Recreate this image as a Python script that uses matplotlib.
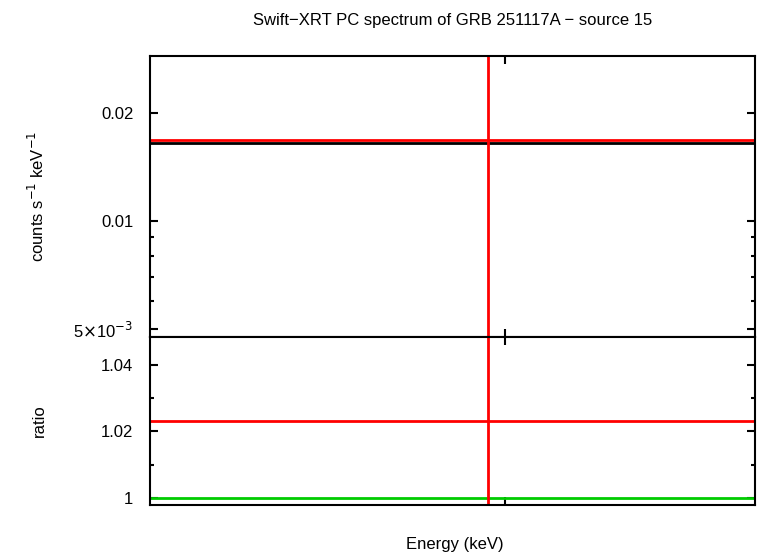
import matplotlib
matplotlib.use("Agg")
import matplotlib.pyplot as plt
from matplotlib.ticker import FixedLocator, NullFormatter, NullLocator

plt.rcParams['font.family'] = ['Liberation Sans', 'DejaVu Sans']

# data
energy = [0.963]
energy_lo = [0.30]
energy_hi = [3.0]
rate = [0.0168]
rate_err = [0.03]
model = [0.0165]
ratio = [1.0233]
ratio_err = [0.2]

fig = plt.figure(figsize=(7.58, 5.56), dpi=100)
ax1 = fig.add_axes([150/758, 1-337/556, 605/758, 281/556])
ax2 = fig.add_axes([150/758, 1-505/556, 605/758, 168/556], sharex=ax1)

xlim = (0.45, 1.755)
for ax in (ax1, ax2):
    ax.set_xscale("log")
    ax.set_xlim(*xlim)
    ax.xaxis.set_major_locator(FixedLocator([1.0]))
    ax.xaxis.set_minor_locator(NullLocator())
    ax.xaxis.set_major_formatter(NullFormatter())
    ax.tick_params(direction="in", which="both", top=True, right=True, length=6, width=1.5, pad=12)
    ax.tick_params(which="minor", length=3)
    for s in ax.spines.values():
        s.set_linewidth(1.5)

xerr = [[energy[0]-energy_lo[0]], [energy_hi[0]-energy[0]]]
ax1.set_yscale("log")
ax1.set_ylim(0.00475, 0.0288)
ax1.plot([energy_lo[0], energy_hi[0]], [model[0], model[0]], color="black", lw=2)
ax1.errorbar(energy, rate, xerr=xerr, yerr=[[0.0165], rate_err], color="red", lw=2, capsize=0, fmt="none")
ax1.yaxis.set_major_locator(FixedLocator([0.005, 0.01, 0.02]))
ax1.yaxis.set_minor_locator(FixedLocator([0.006, 0.007, 0.008, 0.009]))
ax1.set_yticklabels([r"5$\times$10$^{-3}$", "0.01", "0.02"], fontsize=12)
ax1.yaxis.set_minor_formatter(NullFormatter())
ax1.set_ylabel(r"counts s$^{-1}$ keV$^{-1}$", fontsize=12, labelpad=22)
ax1.set_title("Swift\u2212XRT PC spectrum of GRB 251117A \u2212 source 15", fontsize=12, pad=22)

ax2.set_ylim(0.9979, 1.0484)
ax2.axhline(1.0, color="#00cc00", lw=2)
ax2.errorbar(energy, ratio, xerr=xerr, yerr=ratio_err, color="red", lw=2, capsize=0, fmt="none")
ax2.yaxis.set_major_locator(FixedLocator([1.0, 1.02, 1.04]))
ax2.yaxis.set_minor_locator(FixedLocator([1.01, 1.03]))
ax2.set_yticklabels(["1", "1.02", "1.04"], fontsize=12)
ax2.set_ylabel("ratio", fontsize=12, labelpad=42)
ax2.yaxis.set_label_coords(-0.17, 0.5)
ax1.yaxis.set_label_coords(-0.17, 0.5)
fig.text(455/758, 1-545/556, "Energy (keV)", fontsize=12, ha="center", va="center")

fig.savefig("out.png", dpi=100)
